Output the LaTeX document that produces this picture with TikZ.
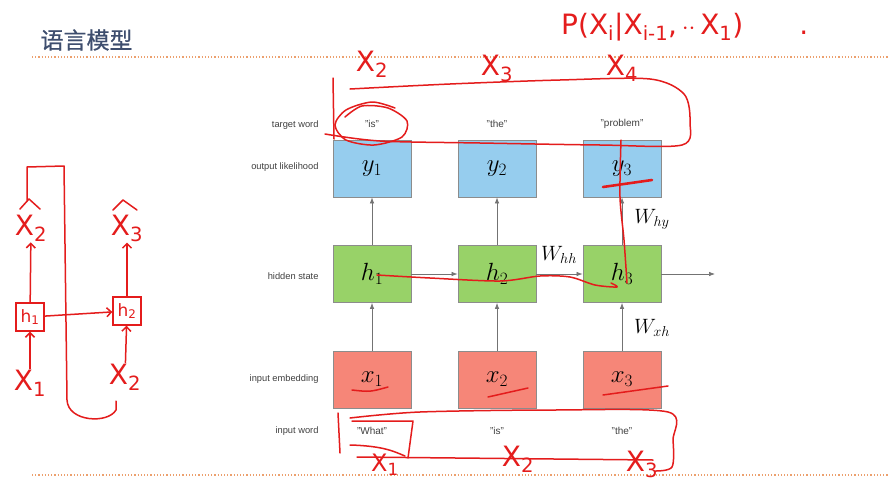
\documentclass[tikz,border=0pt]{standalone}
\usepackage{fontspec}
\setsansfont{Liberation Sans}
\newfontfamily\cjk[FakeBold=0.6]{Noto Sans CJK SC}
\newfontfamily\penfont{DejaVu Sans}
\usetikzlibrary{arrows.meta}

\definecolor{outblue}{RGB}{150,205,238}
\definecolor{hidgreen}{RGB}{152,210,104}
\definecolor{insalmon}{RGB}{246,134,120}
\definecolor{pen}{RGB}{228,28,28}
\definecolor{titlecol}{RGB}{62,78,110}
\definecolor{rulecol}{RGB}{236,160,110}

\tikzset{
  cell/.style={draw=black!45, line width=0.8pt, minimum width=78pt, minimum height=57pt,
    inner sep=0pt, font=\fontsize{25}{25}\selectfont},
  rowlabel/.style={anchor=east, font=\sffamily\fontsize{9.3}{9.3}\selectfont, text=black!75},
  word/.style={font=\sffamily\fontsize{10}{10}\selectfont, text=black!75},
  wlabel/.style={font=\fontsize{22}{22}\selectfont},
  link/.style={draw=black!55, line width=0.7pt, -{Latex[length=6pt,width=4.5pt]}},
  ink/.style={draw=pen, line width=1.5pt, line cap=round, line join=round},
  inktext/.style={text=pen, font=\penfont\fontsize{28}{28}\selectfont, inner sep=1pt},
  inkbox/.style={draw=pen, line width=1.4pt, text=pen, minimum width=28pt, minimum height=28pt,
    inner sep=1pt, font=\penfont\fontsize{17}{17}\selectfont},
}

\begin{document}
\begin{tikzpicture}[x=1pt, y=-1pt, >=Straight Barb]
  \fill[white] (0,0) rectangle (889,482);
  \useasboundingbox (0,0) rectangle (889,482);

  % slide title and rules
  \node[anchor=west, text=titlecol, font=\cjk\fontsize{23}{23}\selectfont] (title) at (37,40) {语言模型};
  \draw[rulecol, line width=1.1pt, dash pattern=on 1.2pt off 2pt] (32,57) -- (889,57);
  \draw[rulecol, line width=1.1pt, dash pattern=on 1.2pt off 2pt] (32,475) -- (889,475);

  % row names
  \node[rowlabel] (ltarget) at (322,125) {target word};
  \node[rowlabel] (lout) at (322,167) {output likelihood};
  \node[rowlabel] (lhid) at (322,276) {hidden state};
  \node[rowlabel] (lemb) at (322,379) {input embedding};
  \node[rowlabel] (lin) at (322,431) {input word};

  % the unrolled net
  \foreach \i/\px/\tw/\iw in {1/372/"is"/"What", 2/497/"the"/"is", 3/622/"problem"/"the"}{
    \node[cell, fill=outblue] (y\i) at (\px,168.5) {$y_\i$};
    \node[cell, fill=hidgreen] (h\i) at (\px,274) {$h_\i$};
    \node[cell, fill=insalmon] (x\i) at (\px,379.5) {$x_\i$};
    \node[word] (t\i) at (\px,124) {\tw};
    \node[word] (w\i) at (\px,431) {\iw};
    \draw[link] (x\i) -- (h\i);
    \draw[link] (h\i) -- (y\i);
  }
  \coordinate (hout) at (715,274);
  \draw[link] (h1) -- (h2);
  \draw[link] (h2) -- (h3);
  \draw[link] (h3) -- (hout);

  \node[wlabel] (whh) at (559,255) {$W_{hh}$};
  \node[wlabel] (why) at (652,219) {$W_{hy}$};
  \node[wlabel] (wxh) at (652,328) {$W_{xh}$};

  % pen notes: targets
  \node[inktext] (n2) at (372,64) {X\textsubscript{2}};
  \node[inktext] (n3) at (497,68) {X\textsubscript{3}};
  \node[inktext] (n4) at (622,68) {X\textsubscript{4}};
  \node[inktext, anchor=west] (prob) at (560,27) {P(X\textsubscript{i}|X\textsubscript{i-1},\,$\cdot\cdot$\,X\textsubscript{1})\qquad.};
  \draw[ink] (333,78) -- (334,139);
  \draw[ink] plot[smooth] coordinates {(350,89) (450,84) (560,80) (650,79) (684,94) (690,122) (682,145) (600,145) (480,143) (380,141) (325,134)};
  \draw[ink] plot[smooth] coordinates {(345,117) (362,106) (388,108) (407,121) (402,137) (374,145) (346,140) (335,125) (346,110) (372,102) (395,108)};

  % pen notes: path through the hidden states
  \draw[ink] plot[smooth] coordinates {(377,275) (430,278) (500,281) (540,276) (570,277) (595,285) (617,287) (611,283)};
  \draw[ink] plot[smooth] coordinates {(627,283) (624,240) (620,197) (621,140)};
  \draw[ink, line width=2.6pt] (603,187) -- (652,180);

  % pen notes: inputs
  \draw[ink] (352,390) .. controls (370,392) .. (388,387);
  \draw[ink] (488,397) .. controls (508,393) .. (528,388);
  \draw[ink] (603,395) .. controls (635,390) .. (668,386);
  \draw[ink] (338,413) -- (340,453);
  \draw[ink] plot[smooth] coordinates {(350,418) (420,412) (553,410) (668,412) (673,440) (672,467) (655,471)};
  \draw[ink] (357,457) -- (653,460);
  \draw[ink] (352,421) -- (413,421) -- (408,458);
  \draw[ink] (350,445) .. controls (385,446) and (395,452) .. (405,456);
  \node[inktext, font=\penfont\fontsize{24}{24}\selectfont] (m1) at (385,465) {X\textsubscript{1}};
  \node[inktext] (m2) at (518,459) {X\textsubscript{2}};
  \node[inktext] (m3) at (642,464) {X\textsubscript{3}};

  % pen notes: small sketch on the left
  \draw[ink] (27,200) -- (27,167) -- (64,166) -- (67,400) .. controls (68,422) and (108,424) .. (116,410) -- (116,401);
  \node[inktext] (yl1) at (31,228) {X\textsubscript{2}};
  \draw[ink] (20,209) -- (29,199) -- (40,209);
  \node[inkbox] (hl1) at (30,317) {h\textsubscript{1}};
  \node[inktext] (xl1) at (30,383) {X\textsubscript{1}};
  \node[inktext] (yl2) at (127,228) {X\textsubscript{3}};
  \draw[ink] (113,210) -- (123,200) -- (137,210);
  \node[inkbox] (hl2) at (127,311) {h\textsubscript{2}};
  \node[inktext] (xl2) at (125,377) {X\textsubscript{2}};
  \draw[ink, ->] (xl1) -- (hl1);
  \draw[ink, ->] (hl1) -- (yl1);
  \draw[ink, ->] (hl1) -- (hl2);
  \draw[ink, ->] (xl2) -- (hl2);
  \draw[ink, ->] (hl2) -- (yl2);
\end{tikzpicture}
\end{document}
